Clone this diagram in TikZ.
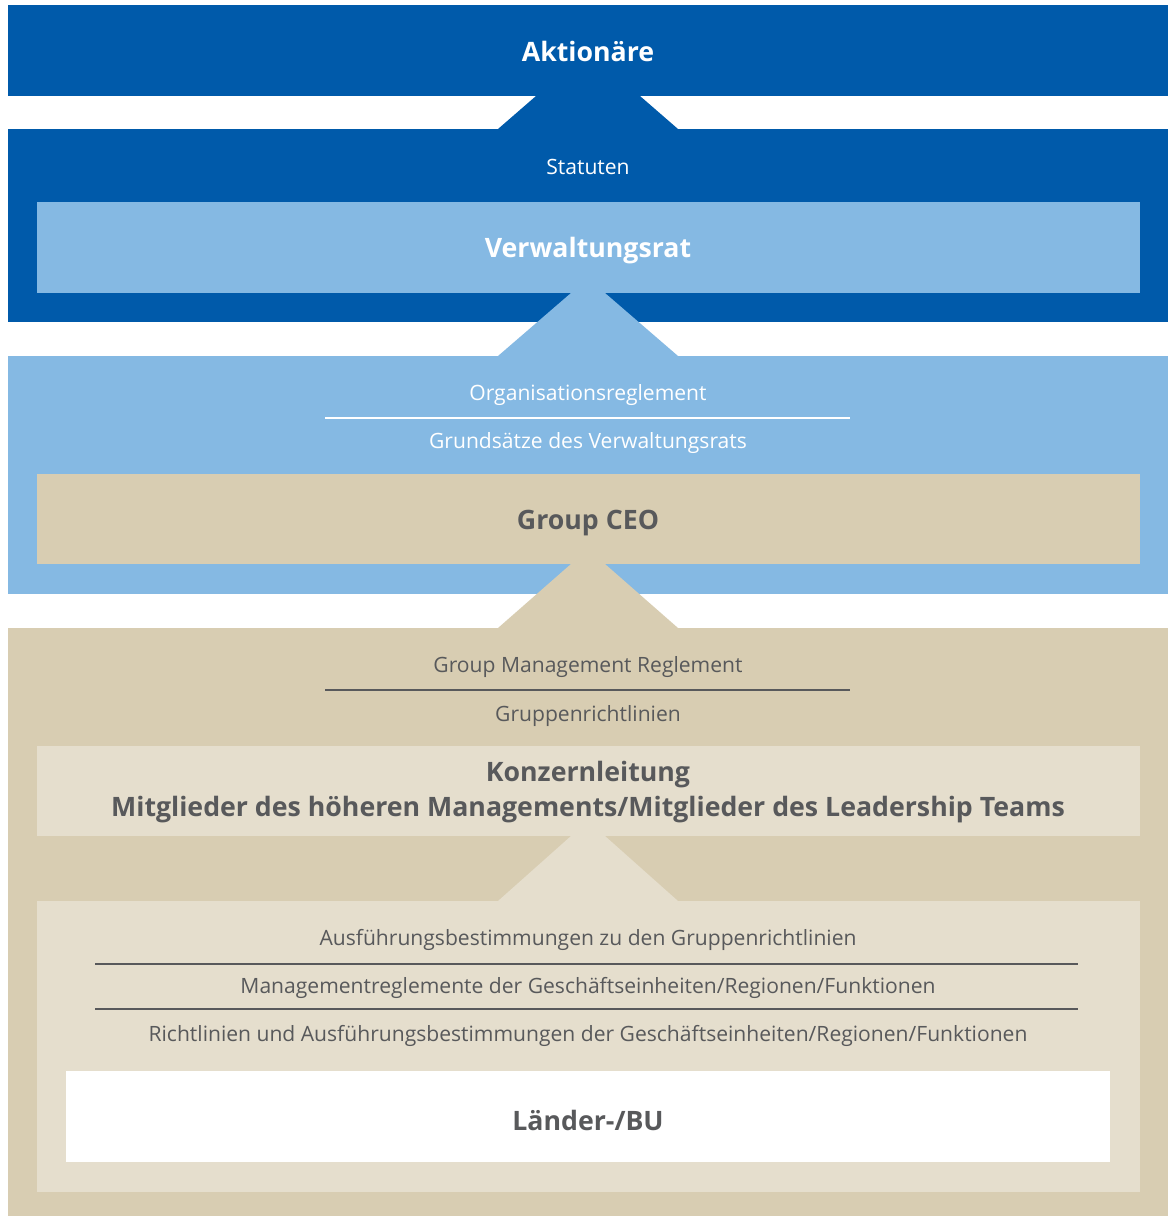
\documentclass[tikz,border=0pt]{standalone}
\usepackage{fontspec}
\setmainfont{Open Sans}
\usepackage{tikz}

\definecolor{darkblue}{RGB}{0,90,170}
\definecolor{lightblue}{RGB}{133,185,227}
\definecolor{tan}{RGB}{216,205,178}
\definecolor{lighttan}{RGB}{229,222,205}
\definecolor{textgray}{RGB}{88,89,91}

\tikzset{
  rule/.style={line width=0.8pt},
  level/.style={font=\fontsize{15.2}{17}\selectfont\bfseries, inner sep=0pt},
  doc/.style={font=\fontsize{12}{14}\selectfont, inner sep=0pt},
}

\begin{document}
\begin{tikzpicture}[x=0.02cm, y=-0.02cm]
\useasboundingbox (0,0) rectangle (1171,1216);
\fill[white] (0,0) rectangle (1171,1216);
% outer bands
\fill[darkblue] (8,5) rectangle (1168,96);
\fill[darkblue] (8,129) rectangle (1168,322);
\fill[lightblue] (8,356) rectangle (1168,594);
\fill[tan] (8,628) rectangle (1168,1216);
% inner boxes
\fill[lightblue] (37,202) rectangle (1140,293);
\fill[tan] (37,474) rectangle (1140,564);
\fill[lighttan] (37,746) rectangle (1140,836);
\fill[lighttan] (37,901) rectangle (1140,1192);
\fill[white] (66,1071) rectangle (1110,1162);
% funnels between levels
\fill[darkblue] (536,96) -- (640,96) -- (678,129) -- (498,129) -- cycle;
\fill[lightblue] (571,293) -- (605,293) -- (678,356) -- (498,356) -- cycle;
\fill[tan] (571,564) -- (605,564) -- (678,628) -- (498,628) -- cycle;
\fill[lighttan] (571,836) -- (605,836) -- (678,901) -- (498,901) -- cycle;

% level names
\node[level, white] (aktionaere) at (588,51) {Aktionäre};
\node[level, white] (vr) at (588,251) {Verwaltungsrat};
\node[level, textgray] (ceo) at (588,523) {Group CEO};
\node[level, textgray] (kl) at (588,775) {Konzernleitung};
\node[level, textgray] (mgmt) at (588,810) {Mitglieder des höheren Managements/Mitglieder des Leadership Teams};
\node[level, textgray] (bu) at (588,1120) {Länder-/BU};

% regulations
\node[doc, white] (statuten) at (588,167) {Statuten};
\node[doc, white] (orgreg) at (588,395) {Organisationsreglement};
\node[doc, white] (grundsaetze) at (588,443) {Grundsätze des Verwaltungsrats};
\draw[rule, white] (325,418) -- (850,418);
\node[doc, textgray] (gmr) at (588,667) {Group Management Reglement};
\node[doc, textgray] (grl) at (588,716) {Gruppenrichtlinien};
\draw[rule, textgray] (325,690) -- (850,690);
\node[doc, textgray] (ausf) at (588,940) {Ausführungsbestimmungen zu den Gruppenrichtlinien};
\node[doc, textgray] (mreg) at (588,988) {Managementreglemente der Geschäftseinheiten/Regionen/Funktionen};
\node[doc, textgray] (rl) at (588,1036) {Richtlinien und Ausführungsbestimmungen der Geschäftseinheiten/Regionen/Funktionen};
\draw[rule, textgray] (95,964) -- (1078,964);
\draw[rule, textgray] (95,1009) -- (1078,1009);
\end{tikzpicture}
\end{document}
